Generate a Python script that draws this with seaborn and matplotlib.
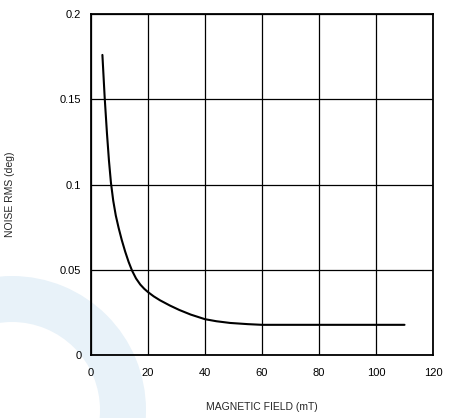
import numpy as np
import pandas as pd
import matplotlib
matplotlib.use("Agg")
import matplotlib.pyplot as plt
from matplotlib.patches import Wedge
import seaborn as sns

# values
field_mt = [4.0, 4.8, 5.6, 6.3, 7.0, 7.8, 8.7, 9.7, 10.8, 12.0, 13.2, 14.4,
            15.8, 17.3, 18.7, 20.0, 22.0, 24.2, 27.7, 31.0, 35.0, 40.0, 44.0,
            48.8, 55.0, 60.0, 80.0, 110.0]
noise_rms = [0.176, 0.151, 0.130, 0.114, 0.101, 0.0905, 0.0818, 0.0745, 0.0674,
             0.0606, 0.0546, 0.0495, 0.0449, 0.0413, 0.0388, 0.0369, 0.0344,
             0.0321, 0.029, 0.0264, 0.0237, 0.021, 0.0198, 0.0188, 0.0181,
             0.0177, 0.0177, 0.0177]

x_ticks = [0, 20, 40, 60, 80, 100, 120]
y_ticks = [0, 0.05, 0.1, 0.15, 0.2]
y_tick_labels = ["0", "0.05", "0.1", "0.15", "0.2"]


def main():
    sns.set_style("white")
    plt.rcParams["font.family"] = ["Liberation Sans", "DejaVu Sans"]
    plt.rcParams["font.size"] = 8

    df = pd.DataFrame({"field": field_mt, "noise": noise_rms})

    fig = plt.figure(figsize=(4.56, 4.18), dpi=100)
    fig.patch.set_facecolor("white")

    # faint watermark ring in the lower left corner, behind everything
    ring = Wedge((0.12, 0.08), 1.34, 0, 360, width=0.46,
                 transform=fig.dpi_scale_trans, facecolor="#e8f2f9",
                 edgecolor="none", zorder=-5)
    fig.patches.append(ring)

    ax = fig.add_axes([91 / 456, 1 - 355 / 418, 342 / 456, 341 / 418])
    ax.set_facecolor("none")
    ax.set_zorder(1)

    sns.lineplot(data=df, x="field", y="noise", ax=ax, color="black",
                 linewidth=1.5, sort=False, estimator=None)

    ax.set_xlim(0, 120)
    ax.set_ylim(0, 0.2)
    ax.set_xticks(x_ticks)
    ax.set_yticks(y_ticks)
    ax.set_yticklabels(y_tick_labels)
    ax.grid(True, color="black", linewidth=0.9)
    ax.set_axisbelow(True)
    for s in ax.spines.values():
        s.set_color("black")
        s.set_linewidth(1.3)
    ax.tick_params(axis="both", length=0, labelsize=8, colors="black")
    ax.tick_params(axis="x", pad=9)
    ax.tick_params(axis="y", pad=7)

    ax.set_xlabel("MAGNETIC FIELD (mT)", fontsize=7.5)
    ax.set_ylabel("NOISE RMS (deg)", fontsize=7.5)
    ax.xaxis.set_label_coords(0.5, -0.138)
    ax.yaxis.set_label_coords(-0.222, 0.472)

    fig.savefig("out.png", dpi=100)


if __name__ == "__main__":
    main()
